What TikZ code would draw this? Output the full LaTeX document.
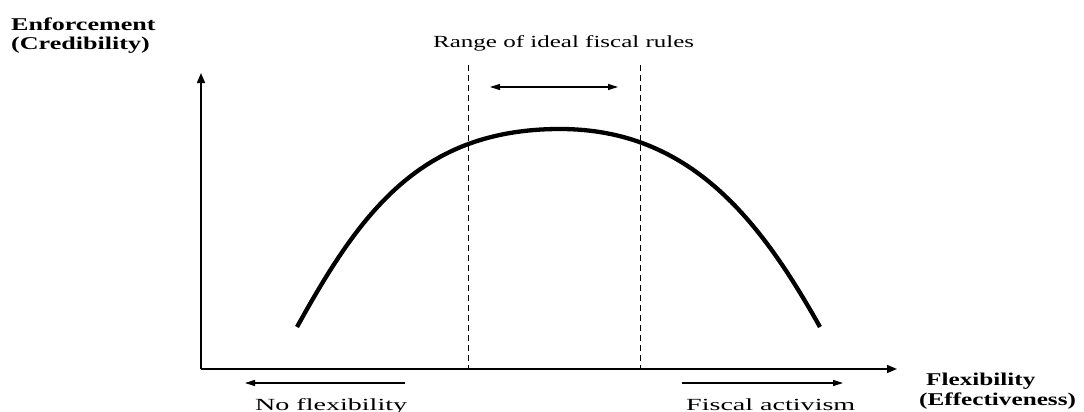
\documentclass[tikz,border=0pt]{standalone}
\usepackage{fontspec}
\usepackage{graphicx}
\setmainfont{Liberation Serif}
\usetikzlibrary{arrows.meta}
\newcommand\stretchtxt[2][1.47]{\scalebox{#1}[1]{#2}}
\begin{document}
\begin{tikzpicture}[x=1pt,y=-1pt,
  lbl/.style={inner sep=0pt,anchor=base west,font=\fontsize{17}{20}\selectfont},
  blbl/.style={lbl,font=\fontsize{18}{21}\selectfont\bfseries},
  axis/.style={line width=1.5pt,-{Triangle[length=10pt,width=8pt]}},
  small/.style={line width=1.2pt,-{Triangle[length=10pt,width=6pt]}},
  guide/.style={line width=1pt,dash pattern=on 6pt off 4pt},
  curve/.style={line width=4.3pt}]
\useasboundingbox (0,0) rectangle (1084,412);
\coordinate (O) at (201,369);
\coordinate (ytip) at (201,73);
\coordinate (xtip) at (897,369);
\draw[axis] (O) -- (ytip);
\draw[axis] (O) -- (xtip);
% dashed bounds
\coordinate (dl1) at (468,65); \coordinate (dl2) at (468,369);
\coordinate (dr1) at (640,65); \coordinate (dr2) at (640,369);
\draw[guide] (dl1) -- (dl2);
\draw[guide] (dr1) -- (dr2);
% range arrow
\coordinate (ra) at (490,87); \coordinate (rb) at (618,87);
\draw[small,{Triangle[length=10pt,width=6pt]}-{Triangle[length=10pt,width=6pt]}] (ra) -- (rb);
% bottom arrows
\coordinate (la) at (405,383); \coordinate (lb) at (245,383);
\draw[small] (la) -- (lb);
\coordinate (rra) at (682,383); \coordinate (rrb) at (843,383);
\draw[small] (rra) -- (rrb);
% curve
\coordinate (c0) at (297,327);
\coordinate (cp) at (560,129);
\coordinate (c1) at (820,327);
\draw[curve] (c0) .. controls (360,213) and (420,129) .. (cp)
  .. controls (690,129) and (760,220) .. (c1);
% labels
\node[blbl] (enf) at (11,31) {\stretchtxt[1.45]{Enforcement}};
\node[blbl] (cred) at (11,49) {\stretchtxt[1.45]{(Credibility)}};
\node[lbl] (range) at (433,48) {\stretchtxt[1.47]{Range of ideal fiscal rules}};
\node[blbl] (flex) at (926,385) {\stretchtxt[1.4]{Flexibility}};
\node[blbl] (eff) at (919,405) {\stretchtxt[1.4]{(Effectiveness)}};
\node[lbl] (nof) at (255,410) {\stretchtxt[1.65]{No flexibility}};
\node[lbl] (act) at (686,410) {\stretchtxt[1.65]{Fiscal activism}};
\end{tikzpicture}
\end{document}
